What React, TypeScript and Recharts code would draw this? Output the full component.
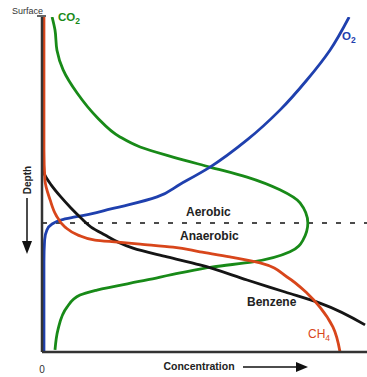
import { Line, LineChart, ReferenceLine, XAxis, YAxis } from 'recharts';

// concentration is 0..100 left to right, depth is 0..100 from surface down
const co2Conc = [3.1, 4, 4.6, 6.5, 10.8, 16.9, 24, 30.2, 40.3, 51.7, 63.1, 73.2, 79.4, 81.8, 80.3, 76.3, 64.9, 52.6, 42.5, 32.3, 16.9, 11.7, 7.7, 4.9, 4];
const co2Depth = [0, 3.9, 9.9, 15.8, 22.7, 29.9, 35.8, 38.8, 41.8, 44.8, 47.8, 51.6, 55.5, 61.5, 66.6, 70.1, 73.1, 74.6, 76.4, 78.5, 81.5, 83, 86.6, 93.4, 99.4];

const o2Conc = [94.5, 88.6, 81.5, 73.2, 63.1, 51.7, 42.5, 35.4, 26.5, 21.2, 15.1, 10.2, 5.8, 3.1, 1.5, 0.8, 0.6, 0.6, 0.6];
const o2Depth = [0, 9.9, 18.8, 27.8, 36.7, 44.8, 49.9, 53.7, 56.1, 57.3, 58.8, 59.7, 60.6, 61.8, 63.6, 66.6, 73.1, 84.5, 100];

const benzeneConc = [0.3, 0.9, 2.8, 5.8, 8.9, 12, 15.1, 19.4, 23.4, 28, 38.5, 48.6, 63.1, 74.8, 85.5, 99.4];
const benzeneDepth = [45.7, 47.2, 50.1, 53.7, 57, 60, 62.7, 65.1, 67.2, 69, 71.6, 74, 78.5, 82.1, 85.4, 91.9];

const ch4Conc = [0.6, 0.6, 0.9, 2.5, 4.3, 7.1, 11.1, 16.3, 23.4, 30.2, 40.3, 48.6, 57.8, 67.1, 75.4, 81.5, 85.5, 89.5, 91.7];
const ch4Depth = [0, 39.7, 48.7, 54.6, 59.1, 62.7, 65.1, 66.6, 67.2, 67.8, 68.7, 70.1, 71.6, 73.4, 77.6, 82.4, 86.6, 92.5, 100];

const boundaryDepth = 61.5;

const zip = (conc: number[], depth: number[]) => conc.map((c, i) => ({ conc: c, depth: depth[i] }));

const FONT = '"Liberation Sans", Arial, sans-serif';
const AXIS = '#333';
const W = 2.8;

export default function App() {
  return (
    <div style={{ position: 'absolute', left: 0, top: 0, width: 367, height: 377, background: '#fff' }}>
      <LineChart width={367} height={377} margin={{ top: 17, right: 0, left: 42, bottom: 25 }}>
        <XAxis type="number" dataKey="conc" domain={[0, 100]} hide allowDataOverflow />
        <YAxis type="number" domain={[0, 100]} reversed hide allowDataOverflow />
        <ReferenceLine y={boundaryDepth} stroke="#111" strokeWidth={1.6} strokeDasharray="5 9" />
        <Line data={zip(co2Conc, co2Depth)} dataKey="depth" type="monotoneY" stroke="#188a18" strokeWidth={W} dot={false} activeDot={false} isAnimationActive={false} />
        <Line data={zip(o2Conc, o2Depth)} dataKey="depth" type="monotoneY" stroke="#1f40ae" strokeWidth={W} dot={false} activeDot={false} isAnimationActive={false} />
        <Line data={zip(benzeneConc, benzeneDepth)} dataKey="depth" type="monotoneY" stroke="#151515" strokeWidth={W} dot={false} activeDot={false} isAnimationActive={false} />
        <Line data={zip(ch4Conc, ch4Depth)} dataKey="depth" type="monotoneY" stroke="#d8461b" strokeWidth={W} dot={false} activeDot={false} isAnimationActive={false} />
        <ReferenceLine x={0} stroke={AXIS} strokeWidth={2.5} />
        <ReferenceLine y={100} stroke={AXIS} strokeWidth={2.5} />

        <g fontFamily={FONT}>
          <line x1={37} x2={46} y1={16} y2={16} stroke={AXIS} strokeWidth={1.5} />
          <text x={12} y={14} fontSize={9} fill="#333">Surface</text>
          <text x={42} y={373} textAnchor="middle" fontSize={10} fill="#333">0</text>
          <text x={58} y={21} fontSize={11.5} fontWeight="bold" fill="#188a18">
            CO<tspan fontSize={8.5} dy={3}>2</tspan>
          </text>
          <text x={342} y={40} fontSize={11.5} fontWeight="bold" fill="#1f40ae">
            O<tspan fontSize={8.5} dy={3}>2</tspan>
          </text>
          <text x={186} y={216} fontSize={12} fontWeight="bold" fill="#222">Aerobic</text>
          <text x={180} y={240} fontSize={12} fontWeight="bold" fill="#222">Anaerobic</text>
          <text x={247} y={306} fontSize={12} fontWeight="bold" fill="#222">Benzene</text>
          <text x={308} y={338} fontSize={12} fill="#d8461b">
            CH<tspan fontSize={8.5} dy={3}>4</tspan>
          </text>
          <text x={199} y={370} fontSize={10.5} fontWeight="bold" fill="#222" textAnchor="middle">Concentration</text>
          <text transform="translate(31,180) rotate(-90)" fontSize={10} fontWeight="bold" fill="#222" textAnchor="middle">Depth</text>
        </g>
        <g stroke="#111" fill="#111">
          <line x1={243} x2={298} y1={367} y2={367} strokeWidth={1.5} />
          <polygon points="296,362 308,367 296,372" stroke="none" />
          <line x1={27} x2={27} y1={198} y2={244} strokeWidth={1.5} />
          <polygon points="22,241 32,241 27,254" stroke="none" />
        </g>
      </LineChart>
    </div>
  );
}
